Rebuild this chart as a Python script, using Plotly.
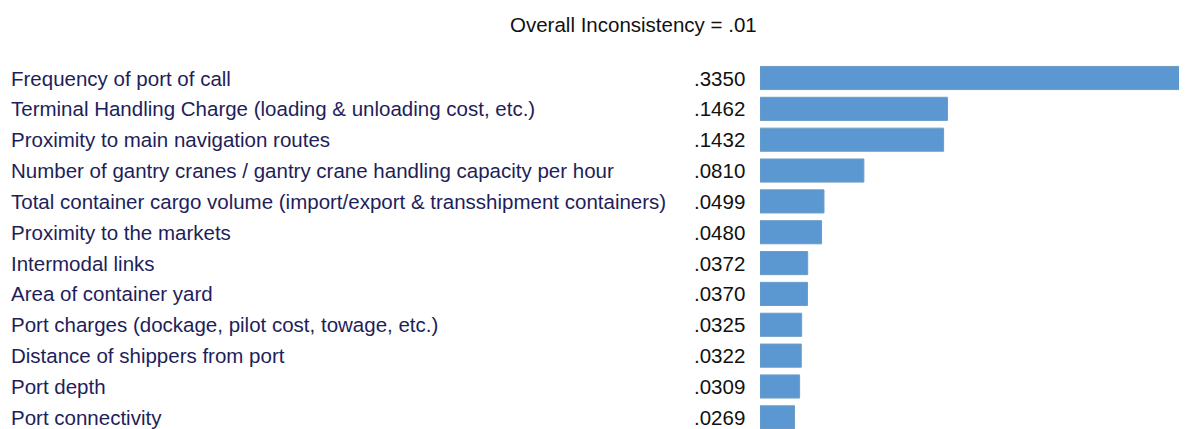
import plotly.graph_objects as go

title_text = "Overall Inconsistency = .01"
categories = [
    "Frequency of port of call",
    "Terminal Handling Charge (loading & unloading cost, etc.)",
    "Proximity to main navigation routes",
    "Number of gantry cranes / gantry crane handling capacity per hour",
    "Total container cargo volume (import/export & transshipment containers)",
    "Proximity to the markets",
    "Intermodal links",
    "Area of container yard",
    "Port charges (dockage, pilot cost, towage, etc.)",
    "Distance of shippers from port",
    "Port depth",
    "Port connectivity",
]
values = [0.3350, 0.1462, 0.1432, 0.0810, 0.0499, 0.0480, 0.0372, 0.0370, 0.0325, 0.0322, 0.0309, 0.0269]
value_labels = [".3350", ".1462", ".1432", ".0810", ".0499", ".0480", ".0372", ".0370", ".0325", ".0322", ".0309", ".0269"]

# page body has an 8px margin, so figure coordinates are screen coordinates minus 8
W, H = 1179, 421
FONT = "Liberation Sans"
FS = 20.5
idx = list(range(len(categories)))

fig = go.Figure()
fig.add_trace(go.Bar(
    x=values, y=idx, orientation="h", width=0.75,
    marker=dict(color="#5b98d2", line=dict(color="#6f9cc4", width=1)),
    hoverinfo="skip", showlegend=False,
))

annotations = []
for i, (c, v) in enumerate(zip(categories, value_labels)):
    annotations.append(dict(x=1 / W, xref="paper", y=i, yref="y", text=c, showarrow=False,
                            xanchor="left", yanchor="middle",
                            font=dict(family=FONT, size=FS, color="#1e1e5a")))
    annotations.append(dict(x=739 / W, xref="paper", y=i, yref="y", text=v, showarrow=False,
                            xanchor="right", yanchor="middle",
                            font=dict(family=FONT, size=FS, color="#111111")))
annotations.append(dict(x=625 / W, xref="paper", y=1 - 16 / H, yref="paper", text=title_text,
                        showarrow=False, xanchor="center", yanchor="middle",
                        font=dict(family=FONT, size=FS, color="#111111")))

fig.update_layout(
    width=W, height=H, margin=dict(l=0, r=0, t=0, b=0),
    paper_bgcolor="white", plot_bgcolor="white",
    xaxis=dict(domain=[752 / W, 1], range=[0, 0.333], visible=False, fixedrange=True),
    yaxis=dict(range=[11.378, -2.269], visible=False, fixedrange=True),
    annotations=annotations,
)
fig.write_html("out.html")
